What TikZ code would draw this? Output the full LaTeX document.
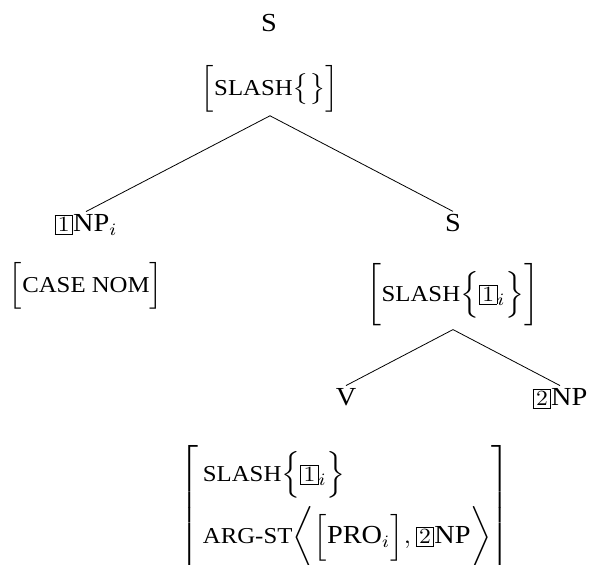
\documentclass[12pt,tikz,border=0pt]{standalone}
\usepackage{amsmath}
\usepackage{graphicx}
\usepackage{fontspec}
\setmainfont{Liberation Serif}
\newcommand{\wide}[1]{\scalebox{1.18}[1.083]{#1}}
\newcommand{\feat}[1]{\text{\fontsize{10.5}{12}\selectfont #1}}
\newcommand{\tg}[1]{{\setlength{\fboxsep}{1pt}\fbox{\footnotesize$#1$}}}
\tikzset{lab/.style={inner sep=1.5pt}}

\begin{document}
\begin{tikzpicture}[x=0.5pt,y=-0.5pt]
				\useasboundingbox (0,0) rectangle (589,565);
				\node [lab,anchor=base](s1) at (269,32) {\wide{S}};
				\node [lab](avm1) at (270,89) {\wide{$\Bigl[\feat{SLASH}\bigl\{\bigr\}\Bigr]$}};
				\node [lab,anchor=base](np1) at (86,232) {\wide{\tg{1}NP$_i$}};
				\node [lab](case) at (86,286) {\wide{$\Bigl[\feat{CASE NOM}\Bigr]$}};
				\node [lab,anchor=base](s2) at (453,232) {\wide{S}};
				\node [lab](avm2) at (453,295) {\wide{$\biggl[\feat{SLASH}\Bigl\{\tg{1}_i\Bigr\}\biggr]$}};
				\node [lab,anchor=base](v) at (346,406) {\wide{V}};
				\node [lab,anchor=base](np2) at (560,406) {\wide{\tg{2}NP}};
				\node [lab,anchor=north](avm3) at (345,442) {\wide{$\left[\begin{array}{@{\hspace{2pt}}l@{}}
					\rule{0pt}{16pt}\feat{SLASH}\Bigl\{\tg{1}_i\Bigr\}\\[7pt]
					\rule[-9pt]{0pt}{0pt}\feat{ARG-ST}\biggl\langle\Bigl[\text{PRO}_i\Bigr],\tg{2}\text{NP}\biggr\rangle
				\end{array}\right]$}};
				\draw (avm1.south)--(np1.north);
				\draw (avm1.south)--(s2.north);
				\draw (avm2.south)--(v.north);
				\draw (avm2.south)--(np2.north);
			\end{tikzpicture}
\end{document}
